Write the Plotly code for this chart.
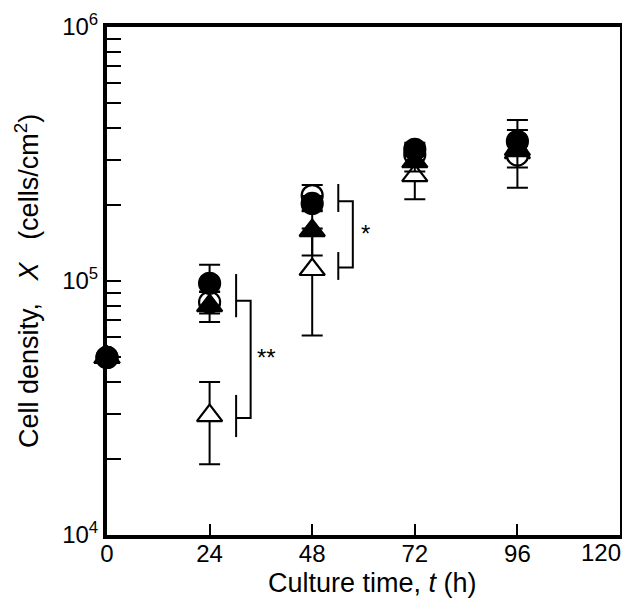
import numpy as np
import plotly.graph_objects as go

# ---- data ----
time_h = [0, 24, 48, 72, 96]

open_tri = [5.0e4, 2.95e4, 1.11e5, 2.6e5, 3.2e5]
open_tri_err = [0, 1.05e4, 5.0e4, 5.0e4, 2.0e4]

open_circ = [5.0e4, 8.25e4, 2.17e5, 3.15e5, 3.13e5]
open_circ_err = [0, 0.8e4, 2.2e4, 3.0e4, 8.0e4]

fill_tri = [5.0e4, 8.0e4, 1.58e5, 2.95e5, 3.3e5]
fill_tri_err = [0, 1.1e4, 3.2e4, 2.5e4, 2.0e4]

fill_circ = [5.0e4, 9.8e4, 2.02e5, 3.3e5, 3.55e5]
fill_circ_err = [0, 1.8e4, 1.4e4, 2.0e4, 7.5e4]

x_ticks = [0, 24, 48, 72, 96, 120]
x_tick_text = ["0", "24", "48", "72", "96", "120"]
y_major = [1e4, 1e5, 1e6]
y_major_text = ["10<sup>4</sup>", "10<sup>5</sup>", "10<sup>6</sup>"]

x_title = "Culture time, <i>t</i> (h)"
y_title = "Cell density,\u00a0\u00a0 <i>X</i> \u00a0\u00a0(cells/cm<sup>2</sup>)"

# significance brackets: (x_left, x_right, upper group span, lower group span, upper join, lower join, label x, label y, label)
brackets = [
    (30.2, 33.6, (7.2e4, 1.065e5), (2.43e4, 3.56e4), 8.37e4, 2.89e4, 37.4, 5.0e4, "**"),
    (54.1, 57.5, (1.87e5, 2.41e5), (1.01e5, 1.30e5), 2.06e5, 1.13e5, 60.4, 1.54e5, "*"),
]

# ---- figure ----
fig = go.Figure()

err_style = dict(type="data", color="black", thickness=2, width=10.5)

def add_series(y, err, symbol, fill, size):
    fig.add_trace(go.Scatter(
        x=time_h, y=y, mode="markers",
        error_y=dict(array=err, **err_style),
        marker=dict(symbol=symbol, size=size, color=fill,
                    line=dict(color="black", width=2.2)),
        cliponaxis=False, showlegend=False))

add_series(open_tri, open_tri_err, "triangle-up", "white", 22)
add_series(open_circ, open_circ_err, "circle", "white", 21)
add_series(fill_tri, fill_tri_err, "triangle-up", "black", 22)
add_series(fill_circ, fill_circ_err, "circle", "black", 21)

for xl, xr, up, lo, yj_up, yj_lo, lx, ly, lab in brackets:
    bx = [xl, xl, None, xl, xl, None, xl, xr, xr, xl]
    by = [up[0], up[1], None, lo[0], lo[1], None, yj_up, yj_up, yj_lo, yj_lo]
    fig.add_trace(go.Scatter(x=bx, y=by, mode="lines",
                             line=dict(color="black", width=2),
                             showlegend=False, hoverinfo="skip"))
    fig.add_annotation(x=lx, y=np.log10(ly), text=lab, showarrow=False,
                       font=dict(size=24, color="black"), xanchor="center", yanchor="middle")

y_tickvals = []
y_ticktext = []
for dec in [1e4, 1e5]:
    for m in range(1, 10):
        v = m * dec
        y_tickvals.append(v)
        y_ticktext.append(y_major_text[y_major.index(v)] if v in y_major else "")
y_tickvals.append(1e6)
y_ticktext.append(y_major_text[2])

font = "Liberation Sans, Arial, sans-serif"

# last x tick label is drawn as an annotation so it stays inside the page
shown_x_text = x_tick_text[:-1] + [""]

fig.update_layout(
    width=622, height=608,
    margin=dict(l=99, r=10, t=19, b=81),
    paper_bgcolor="white", plot_bgcolor="white",
    font=dict(family=font, color="black", size=24),
    xaxis=dict(range=[0, 120], tickvals=x_ticks, ticktext=shown_x_text, ticks="inside",
               ticklen=11, tickwidth=2, ticklabelstandoff=-6,
               tickcolor="black", showline=True, linecolor="black", linewidth=4, mirror=True,
               showgrid=False, zeroline=False, tickfont=dict(size=24), automargin=False),
    yaxis=dict(type="log", range=[4, 6], tickvals=y_tickvals, ticktext=y_ticktext,
               ticks="inside", ticklen=14, tickwidth=2, tickcolor="black",
               showline=True, linecolor="black", linewidth=4, mirror=True,
               showgrid=False, zeroline=False, tickfont=dict(size=24), automargin=False),
)

fig.add_annotation(xref="x", yref="paper", x=x_ticks[-1], y=-0.035, xanchor="right",
                   yanchor="middle", xshift=3, text=x_tick_text[-1], showarrow=False,
                   font=dict(size=24))
fig.add_annotation(xref="paper", yref="paper", x=0.518, y=-0.094, yanchor="middle",
                   text=x_title, showarrow=False, font=dict(size=27))
fig.add_annotation(xref="paper", yref="paper", x=-0.156, y=0.5, xanchor="center",
                   textangle=-90, text=y_title, showarrow=False, font=dict(size=27))

fig.write_html("out.html")
